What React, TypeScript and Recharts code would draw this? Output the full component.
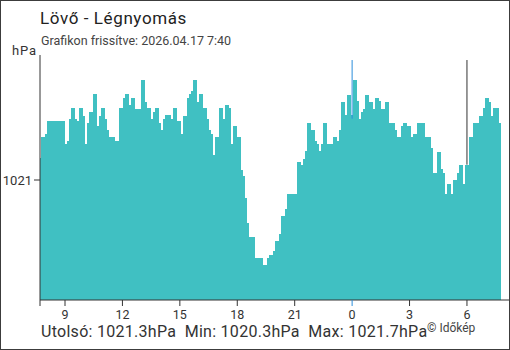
import React from "react";
import { Bar, BarChart, ReferenceLine, XAxis, YAxis } from "recharts";

const title = "Lövő - Légnyomás";
const updated = "Grafikon frissítve: 2026.04.17 7:40";
const unit = "hPa";
const summary = "Utolsó: 1021.3hPa  Min: 1020.3hPa  Max: 1021.7hPa";
const credit = "© Időkép";

// pressure readings (hPa), first at about 7:44, last at 7:40 next morning
const firstMinute = 464;
const stepMinutes = 6.27;
const pressure = [
  1021.16, 1021.31, 1021.18, 1021.33, 1021.42, 1021.42, 1021.39, 1021.42, 1021.42, 1021.42,
  1021.21, 1021.42, 1021.26, 1021.21, 1021.28, 1021.44, 1021.52, 1021.44, 1021.42, 1021.36,
  1021.52, 1021.46, 1021.26, 1021.23, 1021.41, 1021.49, 1021.46, 1021.62, 1021.39, 1021.39,
  1021.46, 1021.52, 1021.44, 1021.36, 1021.28, 1021.31, 1021.31, 1021.28, 1021.28,
  1021.28, 1021.52, 1021.49, 1021.59, 1021.62, 1021.54, 1021.54, 1021.59, 1021.47, 1021.51,
  1021.51, 1021.36, 1021.72, 1021.56, 1021.49, 1021.52, 1021.44, 1021.42, 1021.49, 1021.52,
  1021.41, 1021.36, 1021.36, 1021.44, 1021.47, 1021.47, 1021.44, 1021.28, 1021.52, 1021.36,
  1021.42, 1021.33, 1021.33, 1021.46, 1021.46, 1021.59, 1021.62, 1021.64, 1021.72,
  1021.56, 1021.46, 1021.62, 1021.49, 1021.52, 1021.44, 1021.36, 1021.33, 1021.18, 1021.18,
  1021.31, 1021.26, 1021.52, 1021.44, 1021.31, 1021.54, 1021.52, 1021.26, 1021.21, 1021.39,
  1021.28, 1021.31, 1021.07, 1021.03, 1020.87, 1020.69, 1020.59, 1020.54, 1020.59, 1020.39,
  1020.44, 1020.44, 1020.44, 1020.34, 1020.39, 1020.39, 1020.44, 1020.46, 1020.44,
  1020.49, 1020.56, 1020.54, 1020.61, 1020.74, 1020.72, 1020.79, 1020.9, 1020.79, 1020.9,
  1020.9, 1020.9, 1021.13, 1021.05, 1021.11, 1021.15, 1021.21, 1021.41, 1021.31, 1021.36,
  1021.28, 1021.26, 1021.21, 1021.18, 1021.26, 1021.41, 1021.26, 1021.23, 1021.26, 1021.23,
  1021.31, 1021.28, 1021.28, 1021.36, 1021.56, 1021.47, 1021.47, 1021.61, 1021.47,
  1021.44, 1021.72, 1021.57, 1021.44, 1021.44, 1021.49, 1021.51, 1021.61, 1021.51, 1021.56,
  1021.46, 1021.51, 1021.59, 1021.57, 1021.36, 1021.51, 1021.39, 1021.56, 1021.36, 1021.41,
  1021.41, 1021.36, 1021.31, 1021.31, 1021.28, 1021.39, 1021.41, 1021.36, 1021.39, 1021.31,
  1021.26, 1021.33, 1021.26, 1021.41, 1021.26, 1021.41, 1021.26, 1021.31, 1021.31,
  1021.23, 1021.04, 1021.05, 1021.0, 1021.2, 1021.08, 1021.05, 1020.9, 1020.9, 1020.97,
  1020.9, 1020.88, 1021.0, 1020.94, 1021.05, 1021.11, 1020.93, 1020.97, 1021.11, 1021.11,
  1021.31, 1021.31, 1021.41, 1021.41, 1021.41, 1021.46, 1021.46, 1021.52, 1021.59, 1021.56,
  1021.46, 1021.36, 1021.52, 1021.52, 1021.41,
];

const axisStart = 461.6;
const axisEnd = 1931.8;
const hourTicks = [axisStart, 540, 720, 900, 1080, 1260, 1440, 1620, 1800];
const pressureTicks = [1021];
const pressureDomain = [1020.139, 1021.897];
const midnight = 1440;
const sixAm = 1800;
const lineTop = 1021.861;

const data = pressure.map((v, i) => ({ t: firstMinute + i * stepMinutes, v }));

// the marker lines sit behind the bars, so stop them at the bar below
const valueAt = (minute: number) => {
  let best = data[0];
  data.forEach((d) => {
    if (Math.abs(d.t - minute) < Math.abs(best.t - minute)) best = d;
  });
  return best.v;
};

const FONT = "Roboto, 'Noto Sans', sans-serif";
const INK = "#333";
const TEAL = "#40c0c2";

const HourTick = (props: any) => {
  const { x, y, payload } = props;
  const value = payload.value;
  const label = value === axisStart ? "" : String((value / 60) % 24);
  const isMidnight = value === midnight;
  return (
    <g>
      <line x1={x} x2={x} y1={y - 8} y2={y - 2} stroke={isMidnight ? "#2b8ddb" : INK} />
      <text
        x={x}
        y={y + 10.5}
        textAnchor="middle"
        fontSize={12.5}
        fill={INK}
        fontFamily={FONT}
      >
        {label}
      </text>
    </g>
  );
};

// bars sit edge to edge, so widen each one to close the hairline gaps
const SolidBar = (props: any) => {
  const { x, y, width, height } = props;
  if (!height || height <= 0) return null;
  return (
    <rect
      x={x - 1}
      y={y}
      width={width + 2}
      height={height}
      fill={TEAL}
      shapeRendering="crispEdges"
    />
  );
};

export default function App() {
  return (
    <div
      style={{
        position: "absolute",
        left: 0,
        top: 0,
        width: 510,
        height: 350,
        boxSizing: "border-box",
        border: "1px solid #3c3c3c",
        background: "#fff",
        fontFamily: FONT,
        color: INK,
      }}
    >
      <div
        style={{
          position: "absolute",
          left: 39,
          top: 7,
          fontSize: 17,
          letterSpacing: 0.6,
          color: "#222",
        }}
      >
        {title}
      </div>
      <div style={{ position: "absolute", left: 40, top: 32, fontSize: 12.5, color: "#444" }}>
        {updated}
      </div>
      <div
        style={{
          position: "absolute",
          left: 11,
          top: 42,
          fontSize: 13,
          letterSpacing: 0.8,
          color: INK,
        }}
      >
        {unit}
      </div>
      <div style={{ position: "absolute", top: -1, left: -1 }}>
        <BarChart
          width={510}
          height={350}
          data={data}
          margin={{ top: 55, right: 1, bottom: 20, left: 0 }}
        >
          <XAxis
            type="number"
            dataKey="t"
            domain={[axisStart, axisEnd]}
            ticks={hourTicks}
            interval={0}
            allowDataOverflow
            height={30}
            axisLine={{ stroke: INK }}
            tickLine={false}
            tick={<HourTick />}
          />
          <YAxis
            type="number"
            domain={pressureDomain}
            ticks={pressureTicks}
            allowDataOverflow
            width={40}
            axisLine={{ stroke: INK }}
            tickLine={{ stroke: INK }}
            tick={{ fill: INK, fontSize: 13, fontFamily: FONT }}
          />
          <Bar
            dataKey="v"
            fill={TEAL}
            barSize={3}
            shape={<SolidBar />}
            isAnimationActive={false}
          />
          <ReferenceLine
            segment={[
              { x: midnight, y: lineTop },
              { x: midnight, y: valueAt(midnight) },
            ]}
            stroke="#2b8ddb"
          />
          <ReferenceLine
            segment={[
              { x: sixAm, y: lineTop },
              { x: sixAm, y: valueAt(sixAm) },
            ]}
            stroke={INK}
          />
        </BarChart>
      </div>
      <div
        style={{
          position: "absolute",
          left: 40,
          top: 321,
          fontSize: 16,
          letterSpacing: 0.28,
          whiteSpace: "pre",
          color: INK,
        }}
      >
        {summary}
      </div>
      <div style={{ position: "absolute", left: 426, top: 320, fontSize: 12, color: "#444" }}>
        {credit}
      </div>
    </div>
  );
}
